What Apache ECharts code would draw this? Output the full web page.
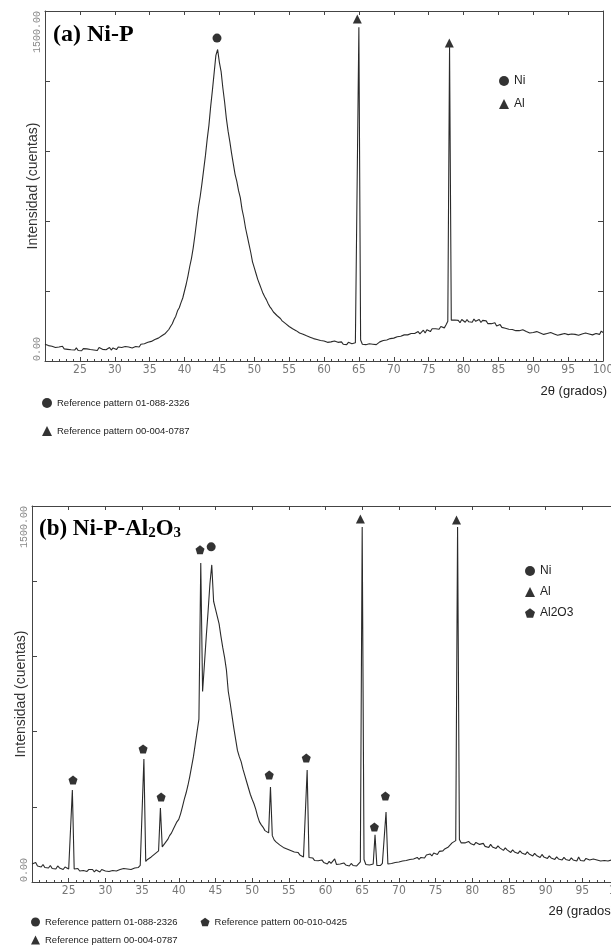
<!DOCTYPE html>
<html>
<head>
<meta charset="utf-8">
<script src="https://cdn.jsdelivr.net/npm/echarts@6/dist/echarts.min.js"></script>
<style>html,body{margin:0;padding:0;background:#fff;}#c{width:611px;height:949px;}</style>
</head>
<body>
<div id="c"></div>
<script>
// 2θ grid: start and step (degrees)
const xStart = 20, xStep = 0.25;
const xTicks = [25,30,35,40,45,50,55,60,65,70,75,80,85,90,95,100];
const yTickLabels = {0:'0.00', 1500:'1500.00'};

// (a) Ni-P intensities, 20° → 100° every 0.25°
const niP = [
72,80,66,70, 63,68,58,66, 60,55,63,52, 57,50,58,48, 54,47,56,45,
50,44,53,46, 52,45,49,56, 47,52,45,58, 60,50,55,48, 52,58,47,56,
55,49,60,52, 58,50,62,55, 60,66,56,64, 62,70,60,72, 66,74,70,80,
76,84,80,92, 90,98,96,108, 110,118,122,135, 148,160,178,192, 215,228,250,270,
300,330,365,405, 440,485,540,600, 660,705,760,820, 880,950,1010,1090, 1160,1235,1310,1335,
1280,1240,1170,1110, 1040,985,940,890, 845,800,770,730, 700,650,615,570, 535,500,465,425,
400,375,350,330, 310,290,275,262, 245,232,222,210, 202,195,188,182, 172,168,160,155,
148,150,138,135, 130,128,120,118, 115,118,108,110, 102,106,96,100, 92,98,88,94,
86,92,80,88, 82,76,86,78, 80,74,82,72, 78,70,80,72, 74,68,78,82,
1430,90,72,66, 70,64,74,68, 72,80,70,78, 82,76,88,80, 90,84,96,88,
98,92,104,96, 106,100,112,104, 112,106,118,110, 118,112,126,116, 124,132,120,134,
130,126,138,132, 138,146,136,148, 146,142,155,170, 1345,175,168,176, 168,174,164,178,
170,166,178,168, 174,166,180,170, 172,178,165,174, 166,172,160,168, 160,154,164,150,
150,156,144,148, 140,146,136,142, 135,140,130,136, 130,124,134,126, 126,132,120,128,
122,116,126,118, 120,126,114,122, 118,112,122,114, 116,120,110,118, 114,108,118,112,
113,108,116,110, 114,120,110,118, 116,110,120,112, 116,122,112,120, 118,124,114,128,
122
];

// (b) Ni-P-Al2O3 intensities, 20° → 100° every 0.25°
const niPAl = [
72,66,78,64, 68,60,70,58, 62,56,66,54, 60,52,64,56, 58,50,60,54,
52,56,367,52, 48,54,44,50, 46,52,42,50, 44,50,40,48, 46,40,50,44,
44,50,42,48, 46,52,44,50, 50,46,54,48, 52,58,50,56, 56,62,58,66,
70,491,82,90, 96,100,106,112, 116,124,295,140, 150,160,170,185, 195,210,225,240,
250,272,300,330, 355,385,420,460, 500,550,600,650, 1273,760,870,980, 1080,1190,1265,1120,
1090,1060,1030,980, 935,895,845,760, 715,665,615,570, 525,500,480,450, 425,400,375,350,
330,312,290,262, 240,228,218,205, 198,196,379,185, 168,160,155,148, 145,138,140,132,
132,126,128,120, 115,118,108,112, 100,104,447,98, 92,96,86,90, 85,80,88,78,
78,72,82,74, 75,92,70,76, 72,66,76,68, 70,64,74,66, 70,64,72,80,
1416,90,70,64, 68,62,72,188, 66,72,66,74, 70,279,72,66, 74,68,78,72,
80,74,84,78, 86,80,90,84, 92,86,98,90, 98,104,96,108, 106,112,104,116,
116,110,122,118, 124,132,128,140, 148,156,152,165, 1416,170,156,162, 156,150,162,154,
156,148,158,152, 150,146,154,142, 146,138,150,140, 140,134,144,136, 132,126,136,128,
124,118,128,120, 120,114,124,116, 116,110,120,112, 110,104,114,106, 104,98,110,100,
98,94,104,96, 96,90,100,92, 94,88,98,90, 92,86,96,88, 90,84,100,86,
90,84,94,88, 88,82,92,86, 88,94,84,90, 86,92,84,90, 88,82,92,86,
90
];

// peak identification markers [2θ, intensity]
const niMarkA = [[44.66, 1384]];
const alMarkA = [[64.78, 1466], [77.97, 1363]];
const niMarkB = [[44.42, 1337]];
const alMarkB = [[64.75, 1448], [77.85, 1444]];
const al2o3MarkB = [[25.59, 407], [35.14, 531], [37.6, 339], [42.9, 1325], [52.33, 427], [57.38, 495], [66.66, 219], [68.16, 343]];

const refNames = {
  'Ni': 'Reference pattern 01-088-2326',
  'Al': 'Reference pattern 00-004-0787',
  'Al2O3': 'Reference pattern 00-010-0425'
};

const toPairs = arr => arr.map((v, i) => [xStart + i * xStep, v]);
const pent = 'path://M50 0 L100 37 L81 96 L19 96 L0 37 Z';
const axisCol = '#444';
const sans = "'Liberation Sans',Arial,sans-serif";
const narrow = "'Liberation Sans Narrow','Arial Narrow','DejaVu Sans Condensed',sans-serif";

function xAxes(grid, nameGap, namePadTop) {
  const bottom = {
    gridIndex: grid, type: 'value', min: 20, max: 100, interval: 5, position: 'bottom',
    axisLine: {show: true, onZero: false, lineStyle: {color: axisCol, width: 1}},
    axisTick: {show: true, inside: true, length: 4, lineStyle: {color: axisCol}},
    minorTick: {show: true, splitNumber: 5, length: 2, lineStyle: {color: axisCol}},
    splitLine: {show: false},
    axisLabel: {showMinLabel: false, fontFamily: narrow, fontSize: 12, color: '#777', margin: 3,
      formatter: v => xTicks.indexOf(v) >= 0 ? String(v) : ''},
    name: '2θ (grados)', nameLocation: 'end', nameGap: nameGap, nameMoveOverlap: false,
    nameTextStyle: {fontFamily: sans, fontSize: 13, color: '#222',
      align: 'right', verticalAlign: 'top', padding: [namePadTop, 0, 0, 0]}
  };
  const top = {
    gridIndex: grid, type: 'value', min: 20, max: 100, interval: 5, position: 'top',
    axisLine: {show: true, onZero: false, lineStyle: {color: axisCol, width: 1}},
    axisTick: {show: true, inside: true, length: 4, lineStyle: {color: axisCol}},
    axisLabel: {show: false}, splitLine: {show: false}
  };
  return [bottom, top];
}
function yAxes(grid, nameGap) {
  const left = {
    gridIndex: grid, type: 'value', min: 0, max: 1500, interval: 300, position: 'left',
    axisLine: {show: true, onZero: false, lineStyle: {color: axisCol, width: 1}},
    axisTick: {show: true, inside: true, length: 5, lineStyle: {color: axisCol}},
    splitLine: {show: false},
    axisLabel: {rotate: 90, margin: 3, fontFamily: "'Liberation Mono','DejaVu Sans Mono',monospace",
      fontSize: 10, color: '#888', alignMinLabel: 'left', alignMaxLabel: 'right',
      formatter: v => yTickLabels[v] || ''},
    name: 'Intensidad (cuentas)', nameLocation: 'middle', nameGap: nameGap, nameRotate: 90, nameMoveOverlap: false,
    nameTextStyle: {fontFamily: sans, fontSize: 14, color: '#333'}
  };
  const right = {
    gridIndex: grid, type: 'value', min: 0, max: 1500, interval: 300, position: 'right',
    axisLine: {show: true, onZero: false, lineStyle: {color: axisCol, width: 1}},
    axisTick: {show: true, inside: true, length: 5, lineStyle: {color: axisCol}},
    axisLabel: {show: false}, splitLine: {show: false}
  };
  return [left, right];
}

const markerSeries = (name, symbol, data, xi, yi) => ({
  name: name, type: 'scatter', xAxisIndex: xi, yAxisIndex: yi, data: data,
  symbol: symbol, symbolSize: [9, 9], itemStyle: {color: '#000'}, silent: true, z: 5
});

const inLegendText = {fontFamily: sans, fontSize: 12, color: '#222', lineHeight: 14};
const refLegendText = {fontFamily: sans, fontSize: 9.5, color: '#222', lineHeight: 12};

const option = {
  animation: false,
  backgroundColor: '#fff',
  title: [
    {text: '(a) Ni-P', left: 53, top: 23, padding: 0,
     textStyle: {fontFamily: "'Liberation Serif','Times New Roman',serif", fontWeight: 'bold', fontSize: 24, color: '#000'}},
    {text: '(b) Ni-P-Al{s|2}O{s|3}', left: 39, top: 518, padding: 0,
     textStyle: {fontFamily: "'Liberation Serif','Times New Roman',serif", fontWeight: 'bold', fontSize: 23, color: '#000',
       rich: {s: {fontFamily: "'Liberation Serif','Times New Roman',serif", fontWeight: 'bold', fontSize: 15, color: '#000', padding: [8, 0, 0, 0]}}}}
  ],
  grid: [
    {left: 45, top: 11, width: 558, height: 350, show: false, outerBoundsMode: 'none', containLabel: false},
    {left: 32, top: 506, width: 587, height: 376, show: false, outerBoundsMode: 'none', containLabel: false}
  ],
  xAxis: [...xAxes(0, 4, 24), ...xAxes(1, -4, 23)],
  yAxis: [...yAxes(0, 5), ...yAxes(1, 4)],
  legend: [
    {data: ['Ni', 'Al'], orient: 'vertical', left: 499, top: 74, padding: 0, itemWidth: 10, itemHeight: 10, itemGap: 9,
     selectedMode: false, textStyle: inLegendText},
    {data: ['Ni', 'Al', 'Al2O3'], orient: 'vertical', left: 525, top: 564, padding: 0, itemWidth: 10, itemHeight: 10, itemGap: 7,
     selectedMode: false, textStyle: inLegendText},
    {data: ['Ni', 'Al'], orient: 'vertical', left: 42, top: 397, padding: 0, itemWidth: 10, itemHeight: 10, itemGap: 16, itemTextGap: 6,
     selectedMode: false, textStyle: refLegendText, formatter: n => refNames[n]},
    {data: ['Ni', 'Al2O3'], orient: 'horizontal', left: 31, top: 916, padding: 0, itemWidth: 9, itemHeight: 9, itemGap: 23, itemTextGap: 0,
     selectedMode: false, textStyle: refLegendText, formatter: n => refNames[n]},
    {data: ['Al'], orient: 'horizontal', left: 31, top: 934, padding: 0, itemWidth: 9, itemHeight: 9, itemTextGap: 0,
     selectedMode: false, textStyle: refLegendText, formatter: n => refNames[n]}
  ],
  series: [
    {name: 'Ni-P', type: 'line', xAxisIndex: 0, yAxisIndex: 0, data: toPairs(niP), showSymbol: false,
     lineStyle: {color: '#2a2a2a', width: 1.1}, silent: true},
    {name: 'Ni-P-Al2O3', type: 'line', xAxisIndex: 2, yAxisIndex: 2, data: toPairs(niPAl), showSymbol: false,
     lineStyle: {color: '#2a2a2a', width: 1.1}, silent: true},
    markerSeries('Ni', 'circle', niMarkA, 0, 0),
    markerSeries('Al', 'triangle', alMarkA, 0, 0),
    markerSeries('Ni', 'circle', niMarkB, 2, 2),
    markerSeries('Al', 'triangle', alMarkB, 2, 2),
    markerSeries('Al2O3', pent, al2o3MarkB, 2, 2)
  ]
};

const chart = echarts.init(document.getElementById('c'), null, {renderer: 'canvas'});
chart.setOption(option);
</script>
</body>
</html>
